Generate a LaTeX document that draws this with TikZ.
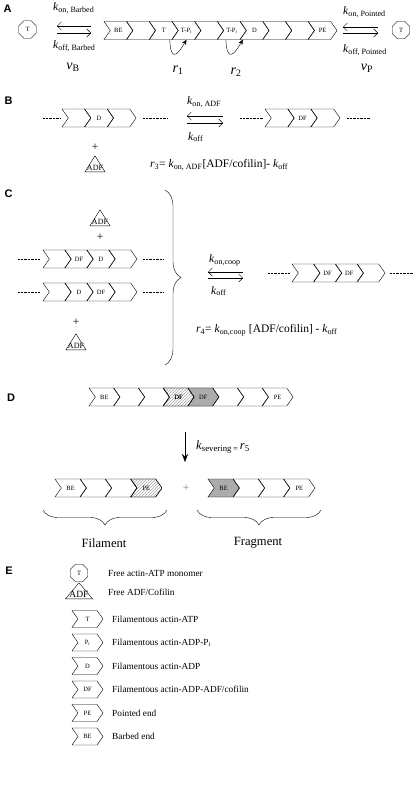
\documentclass[tikz,border=0pt]{standalone}
\usepackage{fontspec}
\setmainfont{Liberation Serif}
\newfontfamily\panelfont{Liberation Sans}
\usetikzlibrary{shapes.symbols,shapes.geometric,arrows.meta,patterns,decorations.pathreplacing}

\newcommand\segsize{\fontsize{6.5}{7}\selectfont}
\newcommand\adfsize{\fontsize{8}{9}\selectfont}
\newcommand\legsize{\fontsize{9.3}{11}\selectfont}
\newcommand\ratesize{\fontsize{11.5}{13}\selectfont}
\newcommand\varsize{\fontsize{14}{16}\selectfont}
\newcommand\kk[1]{\textit{k}\textsubscript{#1}}

\tikzset{
  seg/.style={signal, signal to=east, signal from=west, draw, signal pointer angle=110,
    minimum height=18pt, minimum width=#1, inner sep=0pt, font=\segsize},
  seg/.default=28.7pt,
  mono/.style={regular polygon, regular polygon sides=8, draw, minimum size=19pt,
    inner sep=0pt, font=\segsize},
  tri/.style={isosceles triangle, shape border rotate=90, isosceles triangle stretches,
    draw, minimum width=#1, minimum height=16pt, inner sep=0pt, anchor=lower side},
  tri/.default=20pt,
  lab/.style={inner sep=0pt, font=\ratesize},
  rxn/.style={-{Straight Barb[length=4pt,width=8pt]}},
  rate/.style={-{Stealth[length=5pt,width=4.5pt]}},
  dots/.style={dash pattern=on 0.7pt off 0.7pt},
  panel/.style={inner sep=0pt, font=\panelfont\bfseries\fontsize{11}{13}\selectfont},
  hatch/.style={pattern=north east lines, pattern color=gray!70},
  dark/.style={fill=gray!65},
}

\begin{document}
\begin{tikzpicture}[x=1pt,y=-1pt]
  \useasboundingbox (0,0) rectangle (414,803);

  % A
  \node[panel] (pA) at (7.5,9) {A};
  \node[mono] (tb) at (27.5,29.5) {T};
  \foreach \lab [count=\i from 0] in {BE,,T,T-P\textsubscript{i},,T-P\textsubscript{i},D,,,PE}
    \node[seg] (a\i) at ({118.35+22.7*\i},30.5) {\lab};
  \node[mono] (tp) at (401,30) {T};
  \coordinate (bl1) at (57,26); \coordinate (bl2) at (91,26);
  \coordinate (bl3) at (57,33); \coordinate (bl4) at (91,33);
  \draw[rxn] (bl2) -- (bl1);
  \draw[rxn] (bl3) -- (bl4);
  \coordinate (pl1) at (343,27); \coordinate (pl2) at (378,27);
  \coordinate (pl3) at (343,33); \coordinate (pl4) at (378,33);
  \draw[rxn] (pl2) -- (pl1);
  \draw[rxn] (pl3) -- (pl4);
  \node[lab, anchor=west] (konb) at (53,8) {\kk{on, Barbed}};
  \node[lab, anchor=west] (koffb) at (53,46) {\kk{off, Barbed}};
  \node[lab, anchor=west] (konp) at (343,12) {\kk{on, Pointed}};
  \node[lab, anchor=west] (koffp) at (343,50) {\kk{off, Pointed}};
  \node[lab, font=\varsize] (vb) at (73,67) {\textit{v}\textsubscript{B}};
  \node[lab, font=\varsize] (vp) at (367,68) {\textit{v}\textsubscript{P}};
  \draw[rate] ([xshift=6pt]a2.south) .. controls +(1,24) and +(-8,14) .. (a3.south);
  \draw[rate] ([xshift=-6pt]a5.south) .. controls +(1,24) and +(-8,14) .. ([xshift=11pt]a5.south);
  \node[lab, font=\varsize] (r1) at (178,70) {\textit{r}\textsubscript{1}};
  \node[lab, font=\varsize] (r2) at (236,72) {\textit{r}\textsubscript{2}};

  % B
  \node[panel] (pB) at (8.7,101) {B};
  \foreach \lab [count=\i from 0] in {,D,}
    \node[seg] (b\i) at ({76.35+22.7*\i},118) {\lab};
  \foreach \lab [count=\i from 0] in {,DF,}
    \node[seg=29pt] (bf\i) at ({279.5+23*\i},118) {\lab};
  \draw[dots] (43,118) -- (60,118);
  \draw[dots] (143,118) -- (167,118);
  \draw[dots] (240,118) -- (263,118);
  \draw[dots] (347,118) -- (370,118);
  \coordinate (ba1) at (187,116); \coordinate (ba2) at (223,116);
  \coordinate (ba3) at (187,123); \coordinate (ba4) at (223,123);
  \draw[rxn] (ba2) -- (ba1);
  \draw[rxn] (ba3) -- (ba4);
  \node[lab, anchor=west] (konadf) at (187,102) {\kk{on, ADF}};
  \node[lab, anchor=west] (koffB) at (188,137) {\kk{off}};
  \node[lab] (plusB) at (95,147) {+};
  \node[tri] (adfB) at (95,172) {};
  \node[inner sep=0pt, font=\adfsize] (adfBt) at ([yshift=3.8pt]adfB.lower side) {ADF};
  \node[lab, anchor=west] (r3) at (150,165)
    {\textit{r}\textsubscript{3}= \kk{on, ADF}[ADF/cofilin]- \kk{off}};

  % C
  \node[panel] (pC) at (8.5,194) {C};
  \node[tri] (adfC1) at (100,226) {};
  \node[inner sep=0pt, font=\adfsize] (adfC1t) at ([yshift=3.8pt]adfC1.lower side) {ADF};
  \node[lab] (plusC1) at (100,237) {+};
  \foreach \lab [count=\i from 0] in {,DF,D,}
    \node[seg=28pt] (c\i) at ({57+22*\i},259) {\lab};
  \foreach \lab [count=\i from 0] in {,D,DF,}
    \node[seg=28pt] (cc\i) at ({57+22*\i},292) {\lab};
  \draw[dots] (18,259) -- (40,259);
  \draw[dots] (143,259) -- (163,259);
  \draw[dots] (18,292) -- (40,292);
  \draw[dots] (143,292) -- (163,292);
  \node[lab] (plusC2) at (76,322) {+};
  \node[tri] (adfC2) at (76,350) {};
  \node[inner sep=0pt, font=\adfsize] (adfC2t) at ([yshift=3.8pt]adfC2.lower side) {ADF};
  \draw[decorate, decoration={brace, amplitude=16pt}] (165,190) -- (165,365);
  \coordinate (ca1) at (208,272); \coordinate (ca2) at (243,272);
  \coordinate (ca3) at (208,278); \coordinate (ca4) at (243,278);
  \draw[rxn] (ca2) -- (ca1);
  \draw[rxn] (ca3) -- (ca4);
  \node[lab, anchor=west] (koncoop) at (209,260) {\kk{on,coop}};
  \node[lab, anchor=west] (koffC) at (211,291) {\kk{off}};
  \foreach \lab [count=\i from 0] in {,DF,DF,}
    \node[seg=27.75pt] (cf\i) at ({305.9+21.75*\i},273) {\lab};
  \draw[dots] (268,273) -- (290,273);
  \draw[dots] (390,273) -- (413,273);
  \node[lab, anchor=west] (r4) at (196,330)
    {\textit{r}\textsubscript{4}= \kk{on,coop} [ADF/cofilin] - \kk{off}};

  % D
  \node[panel] (pD) at (11,398) {D};
  \foreach \lab [count=\i from 0] in {BE,,,DF,DF,,,PE}
    \node[seg=30.75pt] (d\i) at ({104.4+24.75*\i},397) {\lab};
  \node[seg=30.75pt, hatch] at (d3) {DF};
  \node[seg=30.75pt, dark] at (d4) {DF};
  \coordinate (sv1) at (185,432); \coordinate (sv2) at (185,462);
  \draw[-{Stealth[length=8pt,width=6pt]}] (sv1) -- (sv2);
  \node[lab, anchor=west, font=\fontsize{12.5}{14}\selectfont] (ksev) at (196,447)
    {\textit{k}\textsubscript{severing\,=\,}\textit{r}\textsubscript{5}};
  \foreach \lab [count=\i from 0] in {BE,,,}
    \node[seg=31.25pt] (f\i) at ({70.6+25.25*\i},488) {\lab};
  \node[seg=31.25pt, hatch] (f3) at ({70.6+25.25*3},488) {PE};
  \node[lab, text=gray] (plusD) at (186,488) {+};
  \node[seg=31.25pt, dark] (g0) at (223.6,488) {BE};
  \foreach \lab [count=\i from 1] in {,,PE}
    \node[seg=31.25pt] (g\i) at ({223.6+25.25*\i},488) {\lab};
  \draw[decorate, decoration={brace, amplitude=15pt}] (167,510) -- (43,510);
  \draw[decorate, decoration={brace, amplitude=15pt}] (321,510) -- (197,510);
  \node[inner sep=0pt, font=\fontsize{12.6}{14}\selectfont] (fil) at (104,543) {Filament};
  \node[inner sep=0pt, font=\fontsize{12.6}{14}\selectfont] (frag) at (258,543) {Fragment};

  % E
  \node[panel] (pE) at (9,571) {E};
  \node[mono] (lmono) at (79,573) {T};
  \node[inner sep=0pt, anchor=west, font=\legsize] (lmonot) at (108,573) {Free actin-ATP monomer};
  \node[tri=27pt] (ladf) at (79,599) {};
  \node[inner sep=0pt, font=\fontsize{9.5}{10}\selectfont] (ladft) at ([yshift=4.3pt]ladf.lower side) {ADF};
  \node[inner sep=0pt, anchor=west, font=\legsize] (ladftx) at (108,592) {Free ADF/Cofilin};
  \foreach \lab/\txt [count=\i from 0] in {T/Filamentous actin-ATP,
      P\textsubscript{i}/Filamentous actin-ADP-P\textsubscript{i},
      D/Filamentous actin-ADP, DF/{Filamentous actin-ADP-ADF/cofilin},
      PE/Pointed end, BE/Barbed end}{
    \node[seg=31pt, minimum height=17pt] (l\i) at (87.5,{619+23.5*\i}) {\lab};
    \node[inner sep=0pt, anchor=west, font=\legsize] (lt\i) at (112,{619+23.5*\i}) {\txt};
  }
\end{tikzpicture}
\end{document}
